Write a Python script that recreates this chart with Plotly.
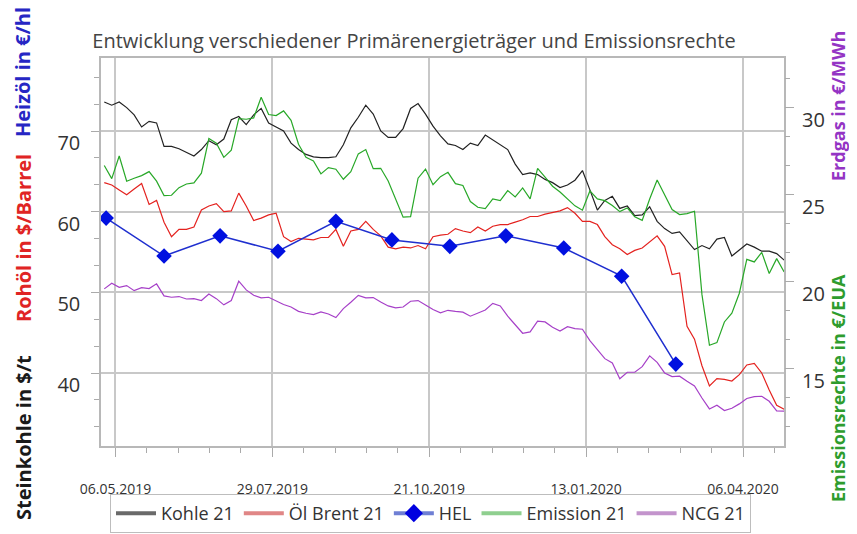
import pandas as pd
import plotly.graph_objects as go

# ---------------- data ----------------
dates = pd.date_range("2019-04-30", periods=92, freq="4D")

kohle = [73.6, 73.2, 73.6, 72.9, 72.0, 70.5, 71.2, 71.0, 68.1, 68.1,
         67.8, 67.3, 66.9, 67.7, 68.8, 68.3, 69.0, 71.4, 71.8, 70.8,
         72.0, 72.8, 71.0, 70.5, 70.0, 68.5, 67.7, 67.1, 66.8, 66.7,
         66.7, 66.8, 68.3, 70.4, 71.7, 73.2, 72.1, 70.0, 69.2, 69.2,
         70.3, 72.8, 73.4, 72.1, 70.6, 69.4, 68.4, 68.2, 67.7, 68.5,
         68.2, 69.5, 68.9, 68.4, 67.7, 65.9, 64.6, 64.8, 64.6, 64.0,
         63.6, 63.0, 63.3, 63.9, 65.1, 62.7, 60.2, 61.4, 61.9, 60.4,
         60.7, 59.5, 59.6, 60.6, 58.8, 57.9, 57.3, 57.5, 56.4, 55.3,
         55.8, 55.4, 56.6, 56.8, 54.5, 55.2, 56.0, 55.6, 55.1, 55.1,
         54.8, 54.0]

oel_brent = [63.6, 63.3, 62.7, 62.1, 62.8, 63.5, 60.9, 61.4, 58.7, 56.9,
             57.8, 57.8, 58.1, 60.2, 60.7, 61.0, 60.0, 60.1, 62.3, 60.7,
             58.9, 59.2, 59.6, 59.8, 56.9, 56.3, 56.7, 56.6, 56.5, 56.8,
             56.8, 57.8, 55.7, 57.6, 57.8, 58.8, 57.8, 57.0, 55.6, 55.4,
             55.6, 55.5, 55.8, 55.4, 56.9, 57.1, 57.2, 57.9, 57.6, 57.4,
             58.1, 57.6, 58.2, 58.4, 58.4, 58.7, 59.0, 59.4, 59.4, 59.7,
             59.9, 60.1, 60.5, 59.8, 58.8, 58.8, 58.4, 56.9, 55.9, 55.4,
             54.7, 55.2, 55.5, 56.2, 57.0, 55.7, 52.2, 52.4, 45.8, 44.2,
             40.9, 38.4, 39.3, 39.2, 39.0, 39.8, 41.0, 41.2, 40.0, 37.9,
             36.0, 35.5]

emission = [26.69, 25.94, 27.24, 25.79, 25.96, 26.11, 26.34, 25.79, 24.96, 24.98,
            25.42, 25.63, 25.69, 26.25, 28.24, 27.97, 27.16, 27.57, 29.39, 29.35,
            29.43, 30.61, 29.62, 29.56, 29.83, 29.29, 27.91, 27.16, 26.95, 26.21,
            26.57, 26.48, 25.90, 26.34, 27.36, 27.61, 26.51, 26.53, 25.80, 24.81,
            23.72, 23.75, 25.96, 26.49, 25.59, 26.05, 26.30, 25.65, 25.54, 24.62,
            24.29, 24.21, 24.77, 24.67, 25.25, 24.89, 25.40, 24.77, 26.53, 26.02,
            25.50, 25.17, 24.77, 24.37, 24.12, 25.23, 24.77, 24.67, 24.39, 24.04,
            24.25, 23.74, 23.54, 24.77, 25.86, 24.96, 24.16, 23.87, 23.93, 24.06,
            19.27, 16.36, 16.51, 17.70, 18.20, 19.35, 21.30, 21.15, 21.70, 20.48,
            21.34, 20.57]

ncg = [19.60, 19.92, 19.69, 19.79, 19.50, 19.67, 19.62, 19.89, 19.20, 19.12,
       19.16, 19.02, 19.04, 18.93, 19.31, 19.04, 18.68, 18.93, 20.04, 19.54,
       19.23, 19.08, 19.12, 18.93, 18.70, 18.56, 18.31, 18.20, 18.12, 18.28,
       18.16, 17.95, 18.47, 18.83, 19.23, 19.08, 19.10, 18.85, 18.62, 18.51,
       18.56, 18.89, 18.93, 18.68, 18.41, 18.22, 18.37, 18.31, 18.26, 18.03,
       18.20, 18.39, 18.77, 18.62, 18.03, 17.51, 17.05, 17.13, 17.74, 17.70,
       17.39, 17.18, 17.43, 17.32, 17.28, 16.63, 16.11, 15.59, 15.34, 14.44,
       14.81, 14.81, 15.13, 15.75, 15.38, 14.77, 14.56, 14.58, 14.29, 14.02,
       13.33, 12.70, 12.91, 12.61, 12.74, 12.99, 13.30, 13.41, 13.43, 13.14,
       12.59, 12.57]

hel_dates = pd.date_range("2019-05-01", periods=11, freq="MS")
hel = [59.2, 54.5, 57.0, 55.1, 58.8, 56.5, 55.7, 57.0, 55.5, 52.0, 41.1]

x_major = ["2019-05-06", "2019-07-29", "2019-10-21", "2020-01-13", "2020-04-06"]
left_ticks = [40, 50, 60, 70]
right_ticks = [15, 20, 25, 30]

title = "Entwicklung verschiedener Primärenergieträger und Emissionsrechte"

# ---------------- figure ----------------
FONT = "Open Sans"
C_KOHLE, C_OEL, C_HEL, C_EMI, C_NCG = "#222222", "#e4221f", "#1f2fcf", "#28a828", "#a640c8"

fig = go.Figure()
fig.add_trace(go.Scatter(x=dates, y=ncg, yaxis="y2", mode="lines",
                         line=dict(color=C_NCG, width=1.2), showlegend=False))
fig.add_trace(go.Scatter(x=dates, y=emission, yaxis="y2", mode="lines",
                         line=dict(color=C_EMI, width=1.2), showlegend=False))
fig.add_trace(go.Scatter(x=dates, y=kohle, mode="lines",
                         line=dict(color=C_KOHLE, width=1.2), showlegend=False))
fig.add_trace(go.Scatter(x=dates, y=oel_brent, mode="lines",
                         line=dict(color=C_OEL, width=1.2), showlegend=False))
fig.add_trace(go.Scatter(x=hel_dates, y=hel, mode="lines+markers",
                         line=dict(color=C_HEL, width=1.5),
                         marker=dict(symbol="diamond", size=12, color="#0010e0"),
                         showlegend=False))

# legend entries
for name, col, mk in [("Kohle 21", "#6a6a6a", None), ("Öl Brent 21", "#e08686", None),
                      ("HEL", "#6f7fd4", "#0000e0"), ("Emission 21", "#8fcf8f", None),
                      ("NCG 21", "#c394cc", None)]:
    kw = dict(mode="lines", line=dict(color=col, width=4))
    if mk:
        kw = dict(mode="lines+markers", line=dict(color=col, width=4),
                  marker=dict(symbol="diamond", size=14, color=mk))
    fig.add_trace(go.Scatter(x=[None], y=[None], name=name, **kw))

# minor x ticks
minor_x = []
for m in x_major:
    for k in range(1, 5):
        minor_x.append((pd.Timestamp(m) + pd.Timedelta(days=16.8 * k)).strftime("%Y-%m-%d %H:%M"))

L, R, T, B = 93, 81, 50, 96
W, H = 857, 534
pw, ph = W - L - R, H - T - B

def px(xp):
    return (xp - L) / pw

def py(yp):
    return (H - B - yp) / ph

fig.update_layout(
    width=W, height=H,
    margin=dict(l=L, r=R, t=T, b=B, autoexpand=False),
    paper_bgcolor="white", plot_bgcolor="white",
    font=dict(family=FONT, color="#333"),
    title=dict(text=title, x=406 / W, xanchor="center", y=1 - 33 / H, yanchor="middle",
               font=dict(family=FONT, size=20, color="#444")),
    xaxis=dict(type="date", range=["2019-04-28 06:00", "2020-04-27 22:00"],
               tickvals=x_major, tickformat="%d.%m.%Y",
               tickfont=dict(size=14, color="#333"),
               ticks="outside", ticklen=9, tickcolor="#aaaaaa", tickwidth=1,
               ticklabelstandoff=20,
               showgrid=True, gridcolor="#c8c8c8", gridwidth=1.5,
               showline=True, linecolor="#b8b8b8", linewidth=1.5, mirror=True,
               minor=dict(tickvals=minor_x, ticklen=5, tickcolor="#aaaaaa", showgrid=False),
               zeroline=False),
    yaxis=dict(range=[30.95, 79.05], tickvals=left_ticks,
               tickfont=dict(size=20, color="#333"),
               ticks="outside", ticklen=8, tickcolor="#aaaaaa",
               ticklabelshift=12, ticklabelstandoff=7,
               showgrid=True, gridcolor="#c8c8c8", gridwidth=1.5,
               showline=True, linecolor="#b8b8b8", linewidth=1.5, mirror=True,
               minor=dict(tickvals=[33.33, 36.67, 43.33, 46.67, 53.33, 56.67, 63.33, 66.67, 73.33, 76.67],
                          ticklen=5, tickcolor="#aaaaaa", showgrid=False),
               zeroline=False),
    yaxis2=dict(range=[10.57, 32.87], tickvals=right_ticks, overlaying="y", side="right",
                tickfont=dict(size=20, color="#333"),
                ticks="outside", ticklen=9, tickcolor="#aaaaaa",
                ticklabelshift=12, ticklabelstandoff=4,
                showgrid=False, showline=False,
                minor=dict(tickvals=[11.67, 13.33, 16.67, 18.33, 21.67, 23.33, 26.67, 28.33, 31.67],
                           ticklen=5, tickcolor="#aaaaaa", showgrid=False),
                zeroline=False),
    legend=dict(orientation="h", x=px(102), xanchor="left", y=py(486), yanchor="top",
                bgcolor="white", bordercolor="#bdbdbd", borderwidth=1,
                font=dict(family=FONT, size=18, color="#333"),
                itemwidth=40),
)

ann = [
    ("Steinkohle in $/t", "#1a1a1a", 15, 430, 20),
    ("Rohöl in $/Barrel", "#e02424", 15, 230, 20),
    ("Heizöl in €/hl", "#2626c4", 15, 64, 20),
    ("Emissionsrechte in €/EUA", "#2e9c2e", 830, 380, 18),
    ("Erdgas in €/MWh", "#9434c4", 830, 98, 18),
]
for text, col, xp, yp, fs in ann:
    fig.add_annotation(text="<b>%s</b>" % text, xref="paper", yref="paper",
                       x=px(xp), y=py(yp), xanchor="center", yanchor="middle",
                       textangle=-90, showarrow=False,
                       font=dict(family=FONT, size=fs, color=col))

fig.write_html("out.html")
